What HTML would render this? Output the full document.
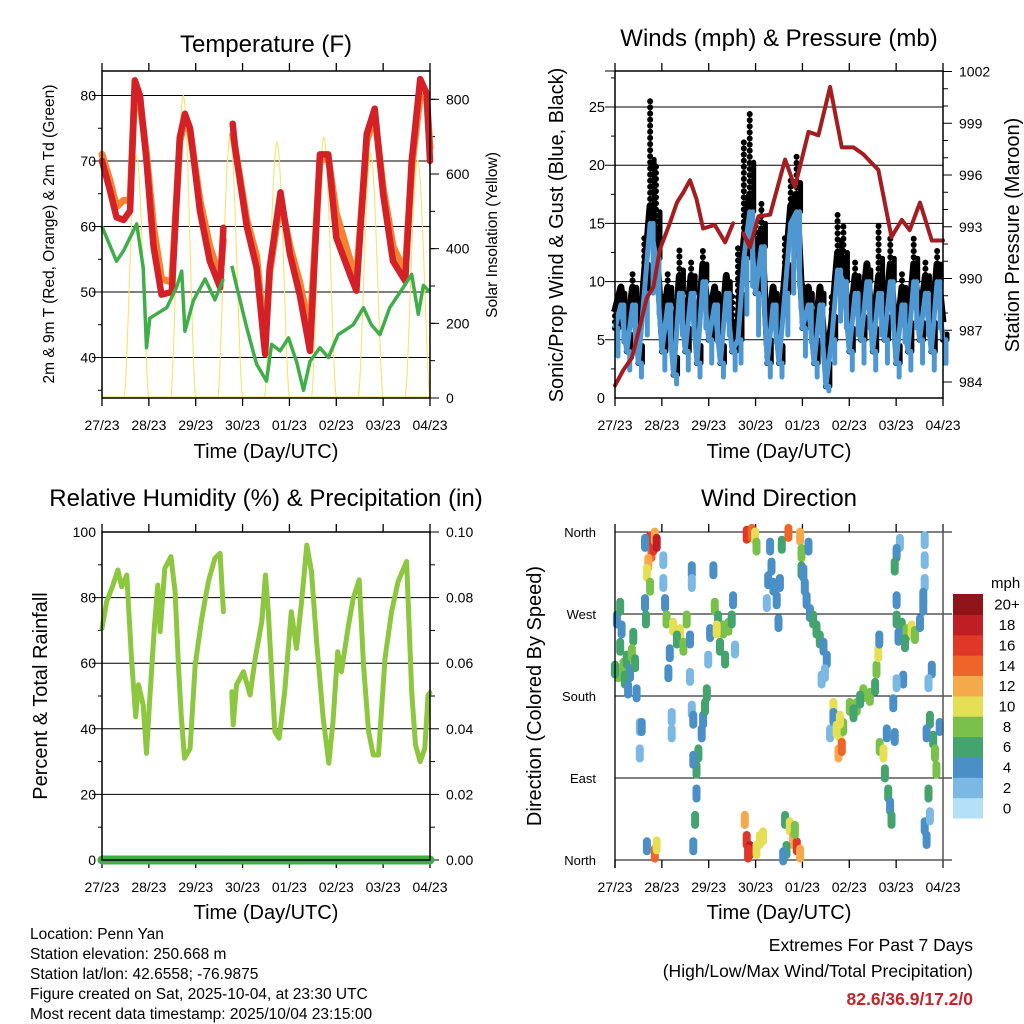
<!DOCTYPE html>
<html><head><meta charset="utf-8"><style>
html,body{margin:0;padding:0;background:#fff;}
svg{display:block;font-family:"Liberation Sans",sans-serif;}
</style></head><body>
<svg id="fig" width="1024" height="1024" viewBox="0 0 1024 1024" xmlns="http://www.w3.org/2000/svg">
<g id="g1"></g>
<g id="g2"></g>
<g id="g3"></g>
<g id="g4"></g>
<g font-size="15.5" fill="#000">
<text x="30" y="939">Location: Penn Yan</text>
<text x="30" y="959">Station elevation: 250.668 m</text>
<text x="30" y="979">Station lat/lon: 42.6558; -76.9875</text>
<text x="30" y="999">Figure created on Sat, 2025-10-04, at 23:30 UTC</text>
<text x="30" y="1019">Most recent data timestamp: 2025/10/04 23:15:00</text>
</g>
<g text-anchor="end">
<text x="973" y="951" font-size="17.5">Extremes For Past 7 Days</text>
<text x="973" y="977" font-size="17.5">(High/Low/Max Wind/Total Precipitation)</text>
<text x="973" y="1005" font-size="17.5" font-weight="bold" fill="#c8232c">82.6/36.9/17.2/0</text>
</g>
</svg>
<script>
// ---------- DATA ----------
const dayLabels = ["27/23","28/23","29/23","30/23","01/23","02/23","03/23","04/23"];
const tempTime = [0,0.17,0.31,0.46,0.6,0.7,0.81,0.95,1.1,1.27,1.49,1.66,1.77,1.88,2.09,2.3,2.52,2.59,2.68,2.79,2.84,3.09,3.3,3.48,3.58,3.81,4.01,4.22,4.44,4.65,4.83,5.0,5.29,5.43,5.65,5.82,6.0,6.21,6.47,6.61,6.79,6.93,7.0];
const temp2m = [70,65.5,61.4,61,62.4,82.3,80,70,57,49.6,50,73.6,77.2,75,62.4,54.7,50.7,59.8,null,75.7,72,60,53.7,40.5,53.7,65.2,55.8,49.6,41,71,71,58.3,52.7,50.2,74.1,78,65,54.7,51.7,70,82.5,80.3,70];
const temp9m = [71,67,63,64,64,81,79,71,60,52,51.5,73,76,74.5,64,57,52,58,null,74,72,61,55.5,42,53,64,57,51.5,44,70,70.5,62,55,52,73,77,66,57,53,69,80,79.5,72];
const dewTime = [0,0.31,0.46,0.74,0.88,0.95,1.02,1.38,1.59,1.7,1.77,1.95,2.2,2.41,2.59,2.68,2.77,2.88,3.09,3.3,3.51,3.62,3.8,3.98,4.15,4.3,4.44,4.65,4.83,5.04,5.36,5.58,5.75,5.93,6.14,6.43,6.61,6.75,6.86,7];
const dew2m = [60,54.7,56.3,60.4,53.7,41.5,46,47.6,50.7,53.2,44,48.7,52,48.8,52,null,54,50.7,44.5,39,36.4,42,41,43,39.4,35,39.4,41.5,40,43.5,45,47.6,45,43.5,47.6,50.7,52.7,46.6,51,50];
const solarPeak = [650,810,700,685,698,655,637];
const tempTicks = [40,50,60,70,80];
const solarTicks = [0,200,400,600,800];
const windSpeed = [6,8,4,8,3,9,15,12,4,8,2,9,4,9,3,10,5,8,3,9,4,5,12,16,9,13,3,8,3,9,15,16,6,8,3,8,1,5,11,10,4,9,5,10,4,9,5,10,3,8,4,10,5,9,4,10,5];
const windGust = [8,10,7,11,6,14,26,20,9,11,5,13,8,12,6,13,8,10,6,11,9,13,22,24.5,15,17,7,10,6,14,19,21,10,10,7,10,5,9,16,15,8,12,9,12,8,15,9,14,6,11,9,14,8,12,9,13,6];
const presTime = [0,0.18,0.36,0.53,0.68,0.82,0.96,1.17,1.32,1.46,1.6,1.74,1.88,2.13,2.35,2.52,2.63,2.74,2.88,3.06,3.31,3.63,3.84,4.13,4.34,4.59,4.84,5.09,5.3,5.51,5.62,5.9,6.12,6.29,6.51,6.76,7];
const pressure = [983.8,984.7,985.4,987.2,988.9,989.5,991.7,993.2,994.4,995,995.7,994.6,992.9,993.1,992.1,993.2,null,992.6,991.8,993.6,993.7,996.9,995.3,998.5,998.3,1001.1,997.6,997.6,997.2,996.6,996.3,992.4,993.4,992.8,994.4,992.2,992.2];
const windTicks = [0,5,10,15,20,25];
const presTicks = [984,987,990,993,996,999,1002];
const rhTime = [0,0.1,0.21,0.34,0.42,0.53,0.63,0.72,0.78,0.88,0.95,1.02,1.12,1.19,1.24,1.34,1.47,1.56,1.63,1.69,1.76,1.88,1.99,2.13,2.27,2.41,2.52,2.59,2.68,2.77,2.8,2.87,3.02,3.16,3.27,3.41,3.49,3.55,3.69,3.78,3.9,4.04,4.15,4.26,4.37,4.47,4.58,4.72,4.84,4.93,5.03,5.11,5.26,5.36,5.49,5.58,5.69,5.79,5.9,6.04,6.18,6.32,6.5,6.61,6.69,6.79,6.89,6.96,7];
const rh = [70.6,78.8,82.8,88.4,83.3,86.9,61.5,43.7,53.4,47.3,32.5,49.3,71.6,83.8,69.6,88.9,92.5,81.8,59.5,44.2,31,34,59.5,73.7,84.9,92,93.5,75.7,null,51.3,41.2,53.4,57.4,50.3,61.5,72.7,86.9,75.7,39.1,37.1,51.3,75.7,64.5,78.8,96,87.9,66.6,43.2,29.5,42.2,63.5,57.4,71.6,79.8,85.4,59.5,39.1,32,32,61.5,75.7,84.9,91,51.3,35.1,30,34,50.3,51];
const rhTicks = [0,20,40,60,80,100];
const rainTicks = ["0.00","0.02","0.04","0.06","0.08","0.10"];
const rainTime = [0,2.62,2.64,7];
const rainTotal = [0,0,0,0];
const wdTime = [0.04,0.11,0.18,0.25,0.32,0.39,0.46,0.07,0.21,0.36,0.14,0.43,0.53,0.53,0.28,0,0.11,
0.75,0.78,0.71,0.82,0.68,0.85,0.75,0.64,0.66,0.89,1.03,1.03,1.07,0.85,0.68,0.89,0.64,
1.10,1.24,1.39,1.53,1.17,1.32,1.46,1.14,1.6,1.6,1.64,1.64,
1.67,1.71,1.74,1.74,1.78,1.85,1.88,1.92,1.96,1.64,1.67,1.21,1.21,0.57,1.67,
2.03,2.13,2.2,2.31,2.42,2.49,2.24,2.35,2.1,2.52,2.56,1.99,2.17,
2.81,2.92,2.99,3.02,2.77,2.81,2.88,2.84,3.02,3.09,3.16,
3.31,3.27,3.38,3.45,3.52,3.34,3.49,3.56,3.24,
3.63,3.73,3.8,3.88,3.66,3.59,3.95,3.84,3.7,3.95,3.98,
3.98,4.05,4.09,4.16,4.23,4.3,4.37,4.45,4.52,4.48,4.41,4.13,4.02,
4.66,4.73,4.8,4.77,4.84,4.87,5.01,5.16,5.3,5.44,5.55,4.59,4.66,5.58,5.62,5.64,5.09,5.23,4.8,4.73,
5.65,5.73,5.76,5.83,5.87,5.9,5.8,5.94,5.97,
6.01,6.12,6.22,6.33,6.4,6.51,6.05,6.19,6.08,6.01,5.97,6.01,6.15,6.01,
6.61,6.61,6.61,6.58,6.58,6.72,6.79,6.83,6.65,6.93,6.86,6.76,6.69,6.61,6.65,6.72,6.69];
const wdDir = [264,234,212,220,205,245,183,205,198,227,253,216,146,117,187,209,278,
351,337,326,344,315,355,300,282,264,348,329,304,282,7,15,16,348,
264,256,249,264,227,242,234,205,242,201,318,304,
15,44,73,99,117,139,154,168,183,165,154,157,139,146,110,
249,278,264,253,256,264,234,220,318,285,231,220,253,
357,359,355,344,44,22,11,7,11,22,26,
344,307,300,285,304,322,260,346,282,
44,37,22,15,11,4,7,33,359,355,337,
318,300,285,271,264,253,242,234,220,205,198,344,315,
168,154,139,117,124,146,168,168,183,179,190,139,157,209,227,242,161,176,154,143,
124,117,95,73,59,44,139,172,135,
264,256,249,253,247,260,245,238,348,337,322,285,198,194,
351,329,304,289,278,154,132,117,139,146,99,209,194,37,22,48,73];
const wdSpeed = [4,6,8,6,4,6,4,8,6,8,4,6,2,2,4,6,6,
16,14,12,16,10,12,8,4,6,18,2,2,4,14,4,10,4,
8,10,10,8,4,6,8,4,4,2,4,2,
4,6,4,6,6,4,4,6,6,2,4,2,2,4,4,
4,8,6,8,8,6,6,6,4,4,2,2,10,
16,14,10,8,12,16,18,16,10,10,10,
4,4,4,4,4,4,4,6,2,
6,10,12,16,6,4,12,8,14,12,8,
6,4,4,4,6,6,6,4,4,2,2,4,4,
10,10,10,12,14,8,8,8,8,8,6,2,4,8,10,4,6,6,10,10,
8,10,6,6,4,6,4,4,4,
6,6,8,10,8,4,4,6,2,4,6,4,4,2,
2,2,2,4,4,6,6,8,4,4,8,4,2,4,4,2,6];
const dirLabels = ["North","East","South","West","North"];
const speedBins = ["0","2","4","6","8","10","12","14","16","18","20+"];
const binColors = ["#b3e0f7","#7bb8e3","#4a8fc6","#45a36f","#7ac14c","#e5df55","#f5a94a","#ef6428","#df3728","#bf1e24","#8e1519"];

// ---------- HELPERS ----------
const NS="http://www.w3.org/2000/svg";
function mk(parent,tag,attrs,txt){const e=document.createElementNS(NS,tag);for(const k in attrs)e.setAttribute(k,attrs[k]);if(txt!==undefined)e.textContent=txt;parent.appendChild(e);return e;}
function lin(d0,d1,r0,r1){return v=>r0+(v-d0)*(r1-r0)/(d1-d0);}
function pathFrom(ts,vs,fx,fy){let d="",pen=false;for(let i=0;i<ts.length;i++){if(vs[i]===null||vs[i]===undefined){pen=false;continue;}d+=(pen?"L":"M")+fx(ts[i]).toFixed(1)+" "+fy(vs[i]).toFixed(1);pen=true;}return d;}

function frame(g,L,T,R,B,xLabY,titleY){
  const fx=lin(0,7,L,R);
  for(let i=0;i<dayLabels.length;i++){
    const x=fx(i);
    const t1=mk(g,"line",{x1:x,y1:T-8,x2:x,y2:T,stroke:"#000","stroke-width":1.3});
    
    
    const t2=mk(g,"line",{x1:x,y1:B,x2:x,y2:B+8,stroke:"#000","stroke-width":1.3});
    
    
    const lb=mk(g,"text",{x:x,y:xLabY,"font-size":14,"text-anchor":"middle"},dayLabels[i]);
    
    
  }
  const xt=mk(g,"text",{x:(L+R)/2,y:titleY,"font-size":20,"text-anchor":"middle"},"Time (Day/UTC)");
  
  
  return fx;
}
function box(g,L,T,R,B){const r=mk(g,"rect",{x:L,y:T,width:R-L,height:B-T,fill:"none",stroke:"#000","stroke-width":1.5});
  
  }
function grid(g,L,R,y){const l=mk(g,"line",{x1:L-10,y1:y,x2:R,y2:y,stroke:"#000","stroke-width":1});
  
  }
function leftLab(g,x,y,txt,fs){const t=mk(g,"text",{x:x,y:y+5,"font-size":fs||14,"text-anchor":"end"},txt);
  
  }
function rightTick(g,R,y,txt,len){const l=mk(g,"line",{x1:R,y1:y,x2:R+len,y2:y,stroke:"#000","stroke-width":1});
  
  
  if(txt!==null){const t=mk(g,"text",{x:R+16,y:y+5,"font-size":14},txt);
  
  }}
function vtitle(g,x,y,txt,fs,name){const t=mk(g,"text",{x:x,y:y,"font-size":fs,"text-anchor":"middle",transform:"rotate(-90 "+x+" "+y+")"},txt);
  
  }
function ptitle(g,x,y,txt,name){const t=mk(g,"text",{x:x,y:y,"font-size":24,"text-anchor":"middle"},txt);
  
  }

// ---------- PANEL 1 ----------
(function(){
  const g=document.getElementById("g1");
  const L=102,T=71,R=430,B=398;
  ptitle(g,266,52,"Temperature (F)","temperature-title");
  const fx=frame(g,L,T,R,B,430,458);
  const fy=lin(40,80,357.5,95.5);
  const fs=lin(0,800,398,99.3);
  tempTicks.forEach(v=>{grid(g,L,R,fy(v));leftLab(g,96,fy(v),String(v));});
  for(let v=35;v<=85;v+=5){if(fy(v)>T&&fy(v)<B){const l=mk(g,"line",{x1:L-4,y1:fy(v),x2:L,y2:fy(v),stroke:"#000"});
    
    }}
  solarTicks.forEach(v=>rightTick(g,R,fs(v),String(v),9));
  for(let v=100;v<=850;v+=100){rightTick(g,R,fs(v),null,5);}
  solarPeak.forEach((p,d)=>{
    let dd="";const rise=d+0.47,set=d+1.0;
    for(let k=0;k<=30;k++){const t=rise+(set-rise)*k/30;const v=p*Math.pow(Math.sin(Math.PI*k/30),1.6);dd+=(k?"L":"M")+fx(t).toFixed(1)+" "+fs(v).toFixed(1);}
    const e=mk(g,"path",{d:dd,fill:"none",stroke:"#f7e36a","stroke-width":1.1});
    
    
  });
  const base=mk(g,"line",{x1:L,y1:B-1,x2:R,y2:B-1,stroke:"#f7e36a","stroke-width":1.2});
  
  
  const o=mk(g,"path",{d:pathFrom(tempTime,temp9m,fx,fy),fill:"none",stroke:"#f58231","stroke-width":7,"stroke-linejoin":"round","stroke-linecap":"round"});
  
  
  const r=mk(g,"path",{d:pathFrom(tempTime,temp2m,fx,fy),fill:"none",stroke:"#d42027","stroke-width":6.5,"stroke-linejoin":"round","stroke-linecap":"round"});
  
  
  const gr=mk(g,"path",{d:pathFrom(dewTime,dew2m,fx,fy),fill:"none",stroke:"#3fae49","stroke-width":3.5,"stroke-linejoin":"round"});
  
  
  box(g,L,T,R,B);
  vtitle(g,54,234,"2m & 9m T (Red, Orange) & 2m Td (Green)",15.5,"y-axis-title-left");
  vtitle(g,497,235,"Solar Insolation (Yellow)",15.5,"y-axis-title-right");
})();

// ---------- PANEL 2 ----------
(function(){
  const g=document.getElementById("g2");
  const L=615,T=71,R=943,B=398;
  ptitle(g,779,46,"Winds (mph) & Pressure (mb)","winds-title");
  const fx=frame(g,L,T,R,B,430,458);
  const fy=lin(0,25,398,107);
  const fp=lin(984,1002,382,71.5);
  windTicks.forEach(v=>{if(v>0)grid(g,L,R,fy(v));leftLab(g,605,fy(v),String(v),14.5);});
  grid(g,L,R,T);
  for(let v=2.5;v<28;v+=5){const l=mk(g,"line",{x1:L-4,y1:fy(v),x2:L,y2:fy(v),stroke:"#000"});
    
    }
  presTicks.forEach(v=>rightTick(g,R,fp(v),String(v),9));
  for(let v=985;v<1002;v+=1){if(v%3)rightTick(g,R,fp(v),null,5);}
  const times=windSpeed.map((_,i)=>i*0.125);
  // gust points drawn as stacked dots between sustained and gust value
  windGust.forEach((v,i)=>{
    const x=fx(times[i]);
    const seg=mk(g,"line",{x1:x,y1:fy(windSpeed[i]),x2:x,y2:fy(v),stroke:"#000","stroke-width":6,"stroke-linecap":"round","stroke-dasharray":"0.1 6"});
    
    
    const seg2=mk(g,"line",{x1:x+4,y1:fy(windSpeed[i]),x2:x+4,y2:fy((v+windSpeed[i])/2),stroke:"#000","stroke-width":5,"stroke-linecap":"round"});
    
    
  });
  const gl=mk(g,"path",{d:pathFrom(times,windSpeed.map((v,i)=>v+1.5),fx,fy),fill:"none",stroke:"#000","stroke-width":7,"stroke-linejoin":"round"});
  
  
  windSpeed.forEach((v,i)=>{
    const x=fx(times[i]);
    const seg=mk(g,"line",{x1:x+3,y1:fy(v*0.6),x2:x+3,y2:fy(v),stroke:"#4f97d1","stroke-width":5,"stroke-linecap":"round"});
    
    
  });
  const bl=mk(g,"path",{d:pathFrom(times,windSpeed,fx,fy),fill:"none",stroke:"#4f97d1","stroke-width":5,"stroke-linejoin":"round"});
  
  
  const pl=mk(g,"path",{d:pathFrom(presTime,pressure,fx,fp),fill:"none",stroke:"#a31d21","stroke-width":4,"stroke-linejoin":"round","stroke-linecap":"round"});
  
  
  box(g,L,T,R,B);
  vtitle(g,563,235,"Sonic/Prop Wind & Gust (Blue, Black)",20,"y-axis-title-left");
  vtitle(g,1019,235,"Station Pressure (Maroon)",20,"y-axis-title-right");
})();

// ---------- PANEL 3 ----------
(function(){
  const g=document.getElementById("g3");
  const L=102,T=532,R=430,B=860;
  ptitle(g,266,506,"Relative Humidity (%) & Precipitation (in)","humidity-title");
  const fx=frame(g,L,T,R,B,892,919);
  const fy=lin(0,100,860,532);
  const fr=lin(0,0.10,860,532);
  rhTicks.forEach(v=>{if(v>0&&v<100)grid(g,L,R,fy(v));leftLab(g,96,fy(v),String(v));});
  for(let v=10;v<100;v+=20){const l=mk(g,"line",{x1:L-4,y1:fy(v),x2:L,y2:fy(v),stroke:"#000"});
    
    }
  rainTicks.forEach((s,i)=>rightTick(g,R,fr(i*0.02),s,9));
  for(let i=0;i<5;i++)rightTick(g,R,fr(0.01+i*0.02),null,5);
  const rl=mk(g,"path",{d:pathFrom(rhTime,rh,fx,fy),fill:"none",stroke:"#8dc63f","stroke-width":5,"stroke-linejoin":"round","stroke-linecap":"round"});
  
  
  const pr=mk(g,"path",{d:"M"+fx(rainTime[0])+" "+fr(rainTotal[0])+"L"+fx(rainTime[1])+" "+fr(rainTotal[1])+"M"+fx(rainTime[2])+" "+fr(rainTotal[2])+"L"+fx(rainTime[3])+" "+fr(rainTotal[3]),fill:"none",stroke:"#3fae49","stroke-width":9,"stroke-linecap":"round"});
  
  
  box(g,L,T,R,B);
  vtitle(g,47,696,"Percent & Total Rainfall",20,"y-axis-title-left");
})();

// ---------- PANEL 4 ----------
(function(){
  const g=document.getElementById("g4");
  const L=615,T=532,R=943,B=860;
  ptitle(g,779,506,"Wind Direction","wind-direction-title");
  const fx=frame(g,L,T,R,B,892,919);
  const fy=lin(0,360,860,532);
  dirLabels.forEach((s,i)=>{const y=fy(i*90);grid(g,L+10,R+9,y);leftLab(g,596,y,s,13);});
  wdTime.forEach((t,i)=>{
    const bin=Math.min(10,Math.floor(wdSpeed[i]/2));
    const x=fx(t),y=fy(wdDir[i]);
    const c=mk(g,"line",{x1:x.toFixed(1),y1:(y-5).toFixed(1),x2:x.toFixed(1),y2:(y+5).toFixed(1),stroke:binColors[bin],"stroke-width":8,"stroke-linecap":"round"});
    
    
  });
  const l1=mk(g,"line",{x1:L,y1:T,x2:L,y2:B+8,stroke:"#000","stroke-width":1.3});
  
  
  const l2=mk(g,"line",{x1:R,y1:T-8,x2:R,y2:B+8,stroke:"#555","stroke-width":1.5});
  
  
  vtitle(g,541,696,"Direction (Colored By Speed)",20,"y-axis-title-left");
  const cbT=594,cbH=224,cbX=953,cbW=30,h=cbH/speedBins.length;
  const mt=mk(g,"text",{x:991,y:588,"font-size":15},"mph");
  
  
  speedBins.forEach((s,i)=>{
    const y=cbT+(speedBins.length-1-i)*h;
    const r=mk(g,"rect",{x:cbX,y:y.toFixed(1),width:cbW,height:(h+0.5).toFixed(1),fill:binColors[i]});
    
    
    const t=mk(g,"text",{x:1007,y:(y+h/2+5.5).toFixed(1),"font-size":15,"text-anchor":"middle"},s);
    
    
  });
})();
</script>
</body></html>
